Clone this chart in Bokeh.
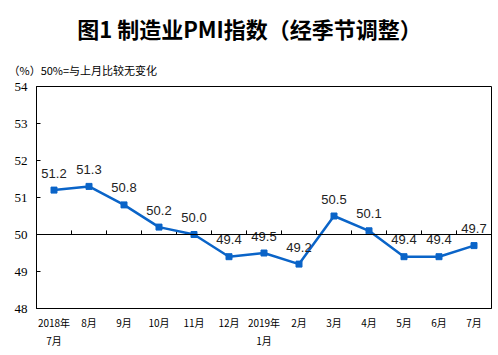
from bokeh.plotting import figure
from bokeh.layouts import column, row
from bokeh.models import Range1d, FixedTicker, Span, ColumnDataSource
from bokeh.core.properties import value
from bokeh.embed import file_html
from bokeh.resources import INLINE

months = ["2018年\n7月", "8月", "9月", "10月", "11月", "12月", "2019年\n1月",
          "2月", "3月", "4月", "5月", "6月", "7月"]
pmi = [51.2, 51.3, 50.8, 50.2, 50.0, 49.4, 49.5, 49.2, 50.5, 50.1, 49.4, 49.4, 49.7]
y_ticks = [48, 49, 50, 51, 52, 53, 54]
title_text = "图1 制造业PMI指数（经季节调整）"
subtitle_text = "（%）50%=与上月比较无变化"
baseline = 50

W = 498
TOP_H = 78

# ---- header (title + subtitle) ----
head = figure(width=W, height=TOP_H, output_backend="svg", toolbar_location=None,
              x_range=Range1d(0, W), y_range=Range1d(TOP_H, 0), title=None,
              min_border=0, min_border_left=0, min_border_right=0,
              min_border_top=0, min_border_bottom=0)
head.xaxis.visible = False
head.yaxis.visible = False
head.outline_line_color = None
head.xgrid.visible = False
head.ygrid.visible = False
head.background_fill_color = "white"
head.border_fill_color = "white"
head.text(x=[W / 2], y=[27], text=[title_text], text_align="center", text_baseline="middle",
          text_font=value("Noto Sans CJK SC"), text_font_style="bold", text_font_size="22px",
          text_color="black")
head.text(x=[8], y=[69], text=[subtitle_text], text_align="left", text_baseline="middle",
          text_font=value("Noto Sans CJK SC"), text_font_size="11px", text_color="black")

# ---- main chart ----
idx = list(range(len(months)))
src = ColumnDataSource(dict(x=idx, y=pmi, lab=[f"{v:.1f}" for v in pmi]))

p = figure(width=W, height=355 - TOP_H, output_backend="svg", toolbar_location=None,
           x_range=Range1d(-0.5, len(months) - 0.5), y_range=Range1d(48, 54), title=None,
           min_border_left=36, min_border_right=7, min_border_top=8, min_border_bottom=47)
p.background_fill_color = "white"
p.border_fill_color = "white"
p.outline_line_color = "black"
p.outline_line_width = 1
p.xgrid.visible = False
p.ygrid.visible = False

for fig in (head, p):
    try:
        fig.frame_align = False
    except Exception:
        pass

p.yaxis.ticker = FixedTicker(ticks=y_ticks)
p.yaxis.major_tick_in = 4
p.yaxis.major_tick_out = 0
p.yaxis.minor_tick_line_color = None
p.yaxis.axis_line_color = "black"
p.yaxis.major_label_text_font = "Liberation Serif"
p.yaxis.major_label_text_font_size = "13px"
p.yaxis.major_label_text_color = "black"
p.yaxis.major_label_standoff = 9

p.xaxis.ticker = FixedTicker(ticks=idx)
p.xaxis.major_label_overrides = {i: m for i, m in zip(idx, months)}
p.xaxis.major_tick_in = 0
p.xaxis.major_tick_out = 0
p.xaxis.major_tick_line_color = None
p.xaxis.minor_tick_line_color = None
p.xaxis.axis_line_color = "black"
p.xaxis.major_label_text_font = "Noto Sans CJK SC"
p.xaxis.major_label_text_font_size = "10px"
p.xaxis.major_label_text_color = "black"
p.xaxis.major_label_standoff = 6

p.add_layout(Span(location=baseline, dimension="width", line_color="black", line_width=1))
bounds = [i + 0.5 for i in idx[:-1]]
p.segment(x0=bounds, y0=[baseline] * len(bounds), x1=bounds, y1=[baseline + 0.11] * len(bounds),
          line_color="black", line_width=1)

p.line("x", "y", source=src, line_color="#0A64C8", line_width=2.5)
p.scatter("x", "y", source=src, marker="square", size=6, fill_color="#0A64C8", line_color="#0A64C8")
p.text("x", "y", text="lab", source=src, text_align="center", text_baseline="middle",
       y_offset=-17, text_font=value("Liberation Sans"), text_font_size="13px", text_color="#222222")

layout = column(row(head), p, spacing=0)
open("out.html", "w").write(file_html(layout, INLINE))
